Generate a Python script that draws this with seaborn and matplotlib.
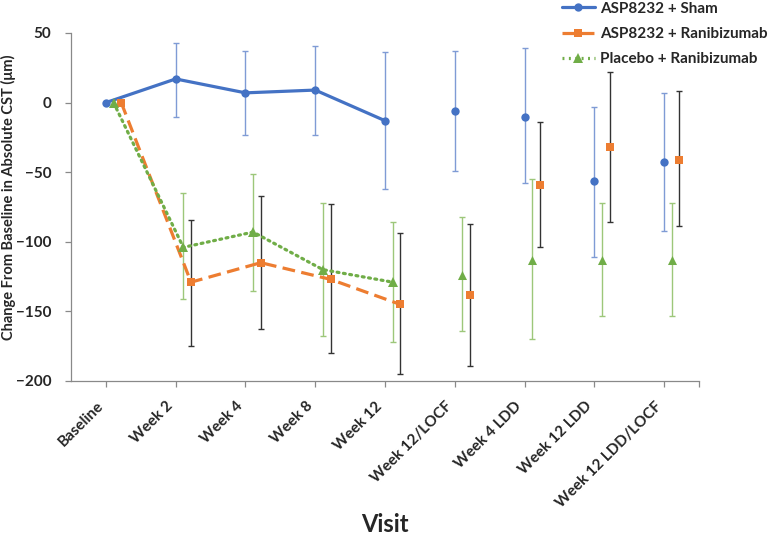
import numpy as np
import matplotlib
matplotlib.use("Agg")
import matplotlib.pyplot as plt
from matplotlib.lines import Line2D
import seaborn as sns

# ── data ─────────────────────────────────────────────────────────────────────
visits = ["Baseline", "Week 2", "Week 4", "Week 8", "Week 12", "Week 12/LOCF",
          "Week 4 LDD", "Week 12 LDD", "Week 12 LDD/LOCF"]

sham_mean = [0, 17, 7, 9, -13, -6, -10, -56, -43]
sham_hi   = [np.nan, 43, 37, 41, 36, 37, 39, -3, 7]
sham_lo   = [np.nan, -10, -23, -23, -62, -49, -58, -111, -92]

asp_rani_mean = [0, -129, -115, -127, -145, -138, -59, -32, -41]
asp_rani_hi   = [np.nan, -84, -67, -73, -94, -87, -14, 22, 8]
asp_rani_lo   = [np.nan, -175, -163, -180, -195, -189, -104, -86, -89]

plac_rani_mean = [0, -104, -93, -120, -129, -124, -113, -113, -113]
plac_rani_hi   = [np.nan, -65, -51, -72, -86, -82, -55, -72, -72]
plac_rani_lo   = [np.nan, -141, -135, -168, -172, -164, -170, -153, -153]

n_connected = 5   # lines join Baseline .. Week 12 only

# ── style ────────────────────────────────────────────────────────────────────
sns.set_theme(style="white")
plt.rcParams["font.family"] = ["Lato", "DejaVu Sans"]
plt.rcParams["font.weight"] = "bold"

series = [
    # label, mean, lo, hi, colour, marker, ms, linestyle, errcolour, x offset
    ("ASP8232 + Sham", sham_mean, sham_lo, sham_hi,
     "#4472C4", "o", 6.0, "-", "#7f9bd5", 0.0),
    ("ASP8232 + Ranibizumab", asp_rani_mean, asp_rani_lo, asp_rani_hi,
     "#ED7D31", "s", 5.5, (0, (4, 2)), "#333333", 0.22),
    ("Placebo + Ranibizumab", plac_rani_mean, plac_rani_lo, plac_rani_hi,
     "#70AD47", "^", 6.5, (0, (0.6, 1.4)), "#9dc77a", 0.11),
]

fig = plt.figure(figsize=(7.68, 5.39), dpi=100)
ax = fig.add_axes([71 / 768, 1 - 381 / 539, 628 / 768, 348 / 539])

base_x = np.arange(len(visits))
for label, mean, lo, hi, col, mk, ms, ls, ecol, off in series:
    x = base_x + off
    mean = np.asarray(mean, float)
    yerr = [mean - np.asarray(lo, float), np.asarray(hi, float) - mean]
    ax.errorbar(x, mean, yerr=yerr, fmt="none", ecolor=ecol,
                elinewidth=1.0, capsize=2.2, capthick=1.0, zorder=1)
    sns.lineplot(x=x[:n_connected], y=mean[:n_connected], ax=ax, color=col,
                 linestyle=ls, linewidth=2.3, marker=mk, markersize=ms,
                 markeredgewidth=0, sort=False, zorder=3,
                 dash_capstyle="round" if label.startswith("Placebo") else "butt")
    sns.scatterplot(x=x[n_connected:], y=mean[n_connected:], ax=ax, color=col,
                    marker=mk, s=ms ** 2, linewidth=0, zorder=3)

ax.set_xlim(-0.5, 8.5)
ax.set_ylim(-200, 50)
ax.set_yticks(range(-200, 51, 50))
ax.set_xticks(base_x)
ax.set_xticks([8.5], minor=True)
ax.set_xticklabels(visits, rotation=45, ha="right", va="top",
                   fontsize=11, fontweight="bold")
ax.tick_params(axis="y", left=True, direction="out", length=4, width=0.9,
               color="#898989", labelsize=11, pad=10)
ax.tick_params(axis="x", which="both", bottom=True, direction="out", length=4,
               width=0.9, color="#898989", pad=9)
for lbl in ax.get_yticklabels():
    lbl.set_fontweight("bold")
for side in ["top", "right"]:
    ax.spines[side].set_visible(False)
for side in ["left", "bottom"]:
    ax.spines[side].set_color("#898989")
    ax.spines[side].set_linewidth(0.9)
ax.set_xlabel("")
ax.set_ylabel("")

fig.text(385 / 768, 1 - 524 / 539, "Visit", ha="center", va="center",
         fontsize=17, fontweight="bold")
fig.text(8 / 768, 1 - 197 / 539, "Change From Baseline in Absolute CST (μm)",
         rotation=90, ha="center", va="center", fontsize=10.5, fontweight="bold")

handles = [
    Line2D([], [], color=c, linestyle=ls, linewidth=2.3, marker=mk,
           markersize=ms, markeredgewidth=0)
    for _, _, _, _, c, mk, ms, ls, _, _ in series
]
fig.legend(handles, [s[0] for s in series], loc="upper left",
           bbox_to_anchor=(560 / 768, 1.0), frameon=False, fontsize=11,
           handlelength=2.2, handletextpad=0.3, labelspacing=0.75,
           borderpad=0.1, borderaxespad=0)

plt.savefig("out.png", dpi=100)
plt.close()
